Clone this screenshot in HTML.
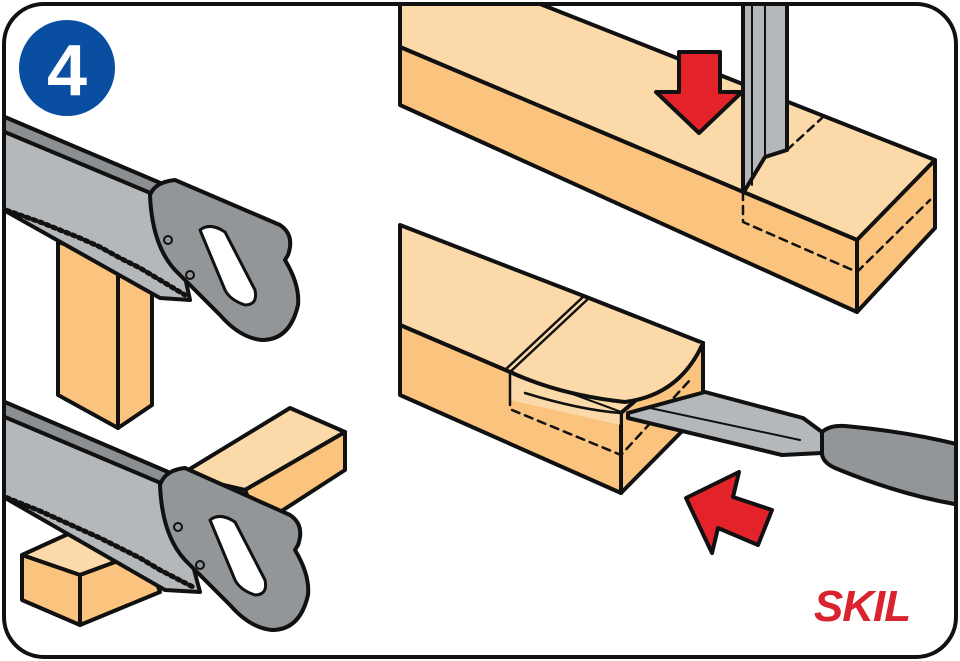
<!DOCTYPE html>
<html><head><meta charset="utf-8"><style>
html,body{margin:0;padding:0;background:#fff;}
svg{display:block}
</style></head><body>
<svg width="960" height="661" viewBox="0 0 960 661" xmlns="http://www.w3.org/2000/svg" stroke-linejoin="round" stroke-linecap="round">
<defs><clipPath id="c"><rect x="4" y="4" width="952" height="653" rx="40"/></clipPath></defs>
<rect x="0" y="0" width="960" height="661" fill="#fff"/>
<g clip-path="url(#c)" stroke="#111" stroke-width="4">
<!-- top beam -->
<polygon points="400,0 530,0 935,160 857,240 400,47" fill="#fcd9a9"/>
<polygon points="400,47 857,240 857,312 400,105" fill="#fbc47e"/>
<polygon points="857,240 935,160 935,228 857,312" fill="#fbc47e"/>
<line x1="857" y1="240" x2="857" y2="312" stroke-width="2.5"/>
<polyline points="743,192 743,222 857,272" fill="none" stroke-dasharray="8,6" stroke-width="2.5"/>
<polyline points="857,272 930,200" fill="none" stroke-dasharray="8,6" stroke-width="2.5"/>
<polyline points="787,150 822,118" fill="none" stroke-dasharray="8,6" stroke-width="2.5"/>
<!-- chisel vertical -->
<polygon points="743,0 787,0 787,150 765,157 745,190 743,190" fill="#b5b8bb"/>
<line x1="752" y1="0" x2="752" y2="185" stroke-width="2"/>
<line x1="765" y1="0" x2="765" y2="157" stroke-width="2"/>
<!-- red arrow down -->
<polygon points="679,52 720,52 720,92 742,92 699,133 656,92 679,92" fill="#e42229" stroke-width="4"/>
<!-- bottom beam -->
<polygon points="400,225 589,298 703,343 621,413 510,372 400,325" fill="#fcd9a9"/>
<polygon points="400,325 510,372 621,413 621,493 400,395" fill="#fbc47e"/>
<polygon points="621,413 703,343 703,410 621,493" fill="#fbc47e"/>
<polygon points="510,372 621,413 621,425 510,400" fill="#fcd9a9" stroke="none"/>
<path d="M510,372 L589,298 M505,370 L584,296" fill="none" stroke-width="2.5"/>
<path d="M510,372 Q560,395 625,402 Q680,395 703,343" fill="#fcd9a9"/>
<path d="M525,393 Q580,410 621,413" fill="none" stroke-width="2.5"/>
<line x1="621" y1="413" x2="621" y2="493" stroke-width="2.5"/>
<line x1="510" y1="372" x2="510" y2="405" stroke-width="2.5"/>
<polyline points="512,410 621,455 690,380" fill="none" stroke-dasharray="8,6" stroke-width="2.5"/>
<!-- chisel bottom -->
<polygon points="628,413 705,392 803,418 822,432 822,453 782,455 628,418" fill="#b5b8bb"/>
<line x1="650" y1="408" x2="800" y2="440" stroke-width="2"/>
<path d="M822,432 Q830,425 845,426 Q910,432 960,445 L960,505 Q900,495 835,468 Q822,462 822,453 Z" fill="#939699"/>
<!-- red arrow up-left -->
<polygon points="686,498 739,472 733,497 772,510 758,545 718,528 712,553" fill="#e42229"/>
<!-- wood vertical -->
<polygon points="58,242 75,232 152,247 118,262" fill="#fcd9a9"/>
<polygon points="58,242 118,262 118,428 58,395" fill="#fbc47e"/>
<polygon points="118,262 152,247 152,405 118,428" fill="#fbc47e"/>
<!-- saw 1 -->
<polygon points="0,115 165,185 190,300 160,298 0,208" fill="#b5b8bb"/>
<polyline points="0,208 20,215 40,222 60,230 80,238 100,247 120,258 140,268 160,280 185,295" fill="none" stroke-width="5" stroke-dasharray="3,4"/>
<polygon points="0,115 165,185 160,197 0,130" fill="#8b8f92"/>
<path d="M150,195 Q155,182 175,180 L280,225 Q295,235 288,255 L285,260 Q300,285 298,305 Q290,340 262,340 Q240,338 220,315 L175,270 Q152,245 150,195 Z" fill="#939699"/>
<path d="M200,230 Q210,222 225,232 L255,290 Q258,305 245,305 Q230,300 225,290 Z" fill="#fff" stroke-width="3"/>
<circle cx="168" cy="240" r="4" fill="none" stroke-width="2"/>
<circle cx="190" cy="275" r="4" fill="none" stroke-width="2"/>
<!-- wood horizontal back -->
<polygon points="180,475 290,408 345,432 245,490" fill="#fcd9a9"/>
<polygon points="245,490 345,432 345,470 260,525" fill="#fbc47e"/>
<!-- front small block -->
<polygon points="22,555 90,524 145,551 80,575" fill="#fcd9a9"/>
<polygon points="22,555 80,575 80,625 22,600" fill="#fbc47e"/>
<polygon points="80,575 145,551 160,592 80,625" fill="#fbc47e"/>
<!-- saw 2 -->
<polygon points="0,400 168,472 200,592 165,590 0,495" fill="#b5b8bb"/>
<polyline points="0,495 20,503 40,511 60,520 80,529 100,538 120,548 140,558 160,570 195,588" fill="none" stroke-width="5" stroke-dasharray="3,4"/>
<polygon points="0,400 168,472 163,484 0,415" fill="#8b8f92"/>
<path d="M160,485 Q165,470 185,468 L290,515 Q305,525 298,545 L295,550 Q310,575 308,595 Q300,630 272,630 Q250,628 230,605 L185,560 Q162,535 160,485 Z" fill="#939699"/>
<path d="M210,520 Q220,512 235,522 L265,580 Q268,595 255,595 Q240,590 235,580 Z" fill="#fff" stroke-width="3"/>
<circle cx="178" cy="527" r="4" fill="none" stroke-width="2"/>
<circle cx="200" cy="565" r="4" fill="none" stroke-width="2"/>
</g>
<rect x="4" y="4" width="952" height="653" rx="40" fill="none" stroke="#111" stroke-width="4"/>
<circle cx="67" cy="68" r="48" fill="#0a4ea2"/>
<text x="67" y="95" text-anchor="middle" font-family="Liberation Sans, sans-serif" font-weight="bold" font-size="72" fill="#fff">4</text>
<text x="862" y="621" text-anchor="middle" font-family="Liberation Sans, sans-serif" font-weight="bold" font-style="italic" font-size="44" fill="#d9232e" letter-spacing="-1">SKIL</text>
</svg>
</body></html>
